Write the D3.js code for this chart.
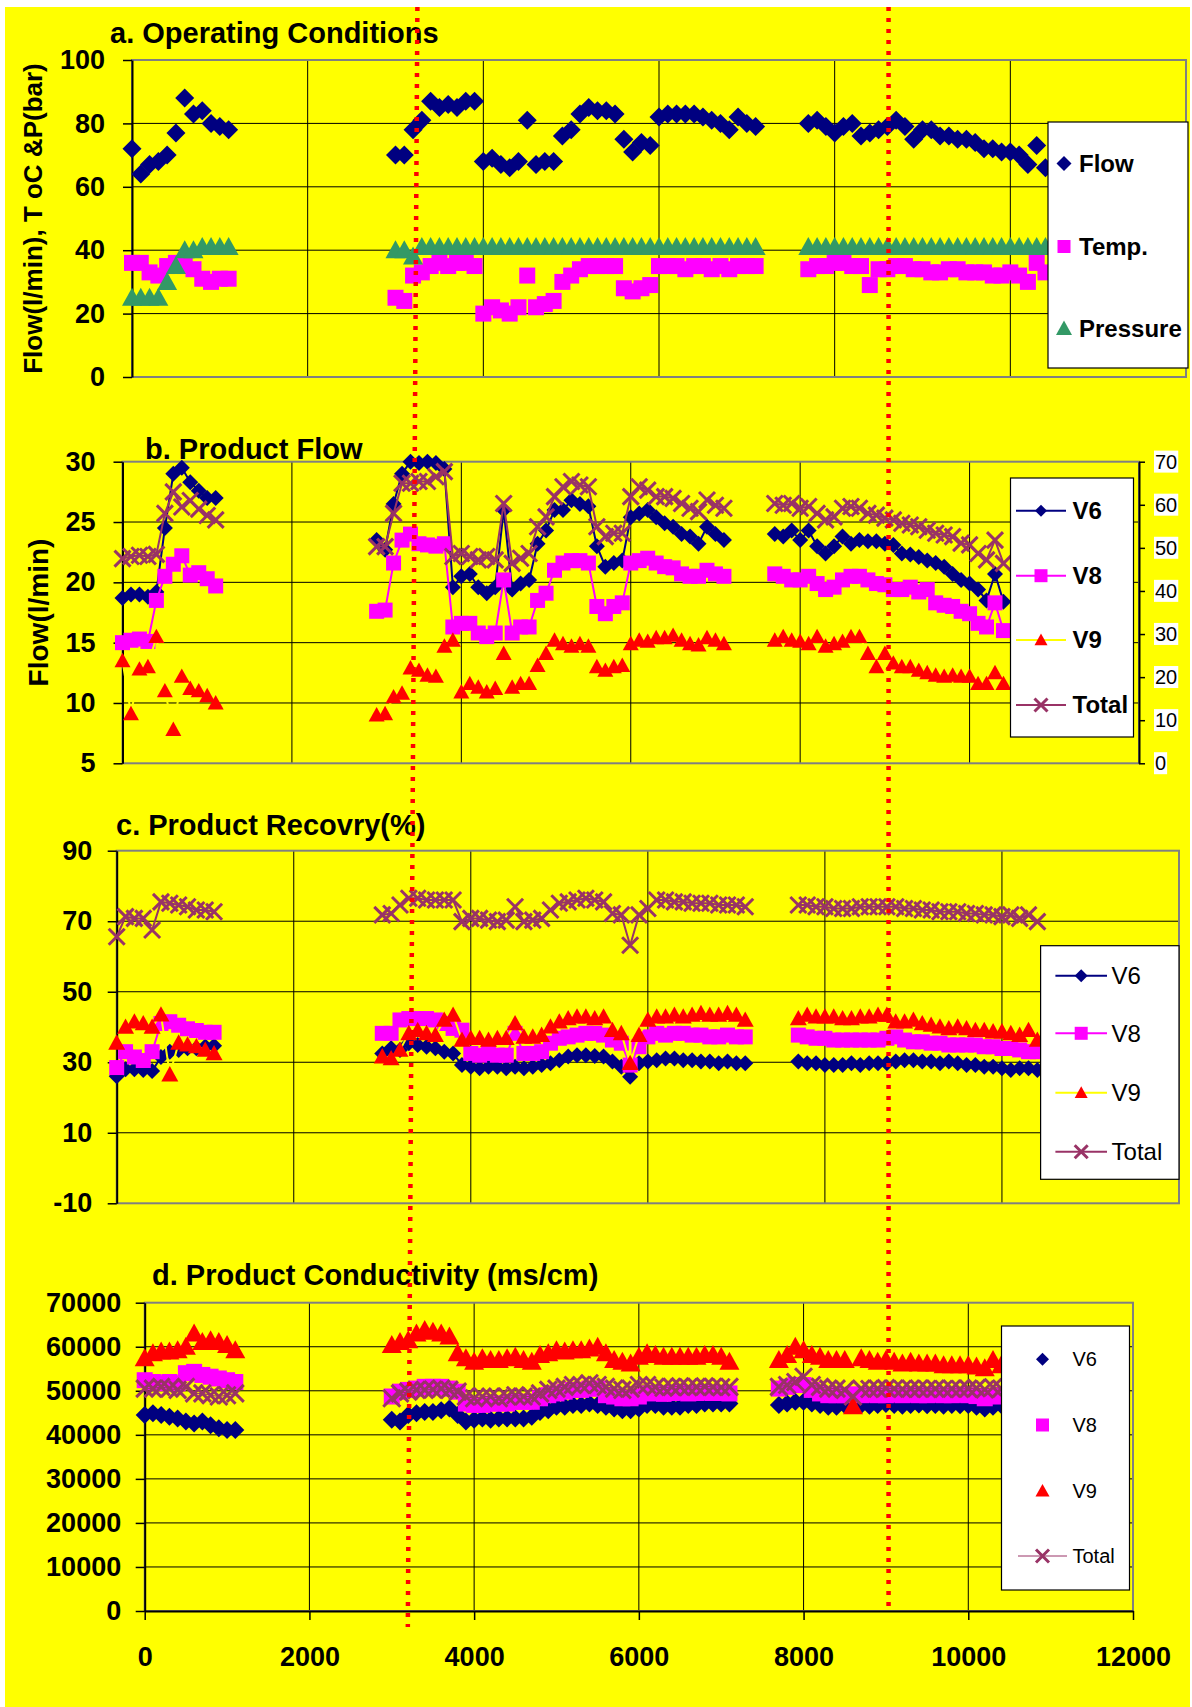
<!DOCTYPE html>
<html>
<head>
<meta charset="utf-8">
<script src="https://cdn.jsdelivr.net/npm/d3@7"></script>
<style>
  body { margin: 0; background: #fff; }
  svg { display: block; }
</style>
</head>
<body>
<div id="chart"></div>
<script>
var FONT = "'Liberation Sans', Arial, Helvetica, sans-serif";
var width = 1192, height = 1707;

// sample times (shared by every series)
var hours = [0,100,200,300,400,500,600,700,800,900,1000,1100,
  3000,3100,3200,3300,3400,3500,3600,3700,3800,3900,
  4000,4100,4200,4300,4400,4500,4600,4700,4800,4900,
  5000,5100,5200,5300,5400,5500,5600,5700,5800,5900,
  6000,6100,6200,6300,6400,6500,6600,6700,6800,6900,
  7000,7100,
  7700,7800,7900,8000,8100,8200,8300,8400,8500,8600,
  8700,8800,8900,9000,9100,9200,9300,9400,9500,9600,
  9700,9800,9900,10000,10100,10200,10300,10400];

var xTicks = [0, 2000, 4000, 6000, 8000, 10000, 12000];

// a. operating conditions
var flowA = [72,64,67,68,70,77,88,83,84,80,79,78,
  70,70,78,81,87,85,86,85,87,87,
  68,69,67,66,68,81,67,68,68,76,
  78,83,85,84,84,83,75,71,74,73,
  82,83,83,83,83,82,81,80,78,82,
  80,79,
  80,81,79,77,79,80,76,77,78,79,
  81,79,75,78,78,76,76,75,75,74,
  72,72,71,71,70,67,73,66];
var tempA = [36,36,33,32,35,36,35,34,31,30,31,31,
  25,24,32,33,35,36,35,36,36,35,
  20,22,21,20,22,32,22,23,24,30,
  32,34,35,35,35,35,28,27,28,29,
  35,35,35,34,35,35,34,35,34,35,
  35,35,
  34,35,35,36,36,35,35,29,34,34,
  35,35,34,34,33,33,34,34,33,33,
  33,32,32,33,32,30,36,33];
var pressA = [25,25,25,25,30,35,40,40,41,41,41,41,
  40,40,38,41,41,41,41,41,41,41,
  41,41,41,41,41,41,41,41,41,41,
  41,41,41,41,41,41,41,41,41,41,
  41,41,41,41,41,41,41,41,41,41,
  41,41,
  41,41,41,41,41,41,41,41,41,41,
  41,41,41,41,41,41,41,41,41,41,
  41,41,41,41,41,41,41,41];

// b. product flow (l/min), total on the right axis
var v6B = [18.7,19,19,18.8,19.2,24.5,29,29.5,28.3,27.6,27,27,
  23.5,22.7,26.5,29,30,29.9,30,29.9,29.4,19.6,
  20.5,20.7,19.6,19.1,19.6,26,19.4,19.9,20.2,23.2,
  24.3,26,26,26.8,26.5,26.3,23,21.3,21.6,21.8,
  25.4,25.7,26,25.4,24.9,24.6,24,23.8,23.2,24.6,
  24,23.5,
  24,23.8,24.3,23.5,24.3,23,22.4,23,23.8,23.2,
  23.5,23.4,23.4,23.2,23.1,22.4,22.3,22.1,21.8,21.6,
  21.3,20.7,20.2,19.9,19.4,18.5,20.7,18.4];
var v8B = [15,15.2,15.3,15.1,18.5,20.5,21.5,22.2,20.6,20.8,20.3,19.7,
  17.6,17.7,21.6,23.5,24,23.2,23.1,23,23.2,16.3,
  16.6,16.6,15.8,15.5,15.8,20.2,15.8,16.3,16.3,18.5,
  19.1,21,21.6,21.8,21.8,21.6,18,17.4,18,18.3,
  21.6,21.8,22,21.6,21.3,21.2,20.7,20.5,20.5,21,
  20.7,20.5,
  20.7,20.5,20.2,20.2,20.5,19.9,19.4,19.6,20.2,20.5,
  20.5,20.2,19.9,19.8,19.4,19.4,19.6,19.2,19.4,18.3,
  18.1,18,17.6,17.4,16.6,16.3,18.3,16];
var v9B = [13.5,9.1,12.8,13,15.5,11,7.8,12.2,11.2,11,10.6,10,
  9,9.1,10.5,10.8,12.9,12.7,12.3,12.2,14.7,15.2,
  10.9,11.6,11.3,10.9,11.2,14.1,11.3,11.6,11.6,13.1,
  14.1,15.2,14.9,14.7,14.9,14.7,13,12.7,13,13.1,
  14.9,15.2,15.1,15.4,15.4,15.6,15.2,14.9,14.8,15.4,
  15.2,14.9,
  15.2,15.5,15.2,15.1,14.9,15.5,14.7,14.9,15.1,15.5,
  15.5,14.1,13,14.1,13.3,13,13,12.7,12.5,12.3,
  12.2,12.3,12.2,12.2,11.6,11.6,12.5,11.6];
var totalB = [47.5,48,48.3,48,48.5,58,63,59.5,61,59,57.5,56.5,
  50.3,50.3,58,65,65,65.4,65.4,66.5,67.7,48,
  48.7,48,47.2,48,47.2,60.3,46.4,47.6,48.7,54.9,
  57.2,61.9,64.2,65.4,64.6,64.2,54.9,52.6,53.4,53.4,
  61.9,64.2,63.4,61.9,61.9,61.5,60.3,59.2,58.4,61.1,
  59.9,59.2,
  60.3,59.9,60.3,59.2,59.6,58,56.5,57.2,59.2,59.6,
  59.2,58,57.6,56.9,56.5,55.7,55.3,54.9,54.1,53.4,
  53,52.6,51.1,50.7,48.7,47.2,51.8,46.4];

// c. product recovery (%)
var v6C = [26,28,28,27.8,27.5,31.5,33,33.5,34,34,34.5,34.7,
  32.5,34,33.5,35.4,34.9,34.4,34,33,32.5,29.2,
  28.7,28.3,28.7,28.7,28.3,28.7,28.3,28.7,29.2,29.7,
  30.6,31.6,32,32,31.8,31.6,30.2,28.7,25.9,29.7,
  30.2,30.6,31.1,31.1,30.6,30.6,30.2,30.2,29.7,30.2,
  29.7,29.7,
  30.2,29.7,29.7,29.2,29.2,29.2,29.7,29.2,29.7,29.7,
  29.7,30.2,30.6,30.6,30.2,30.2,29.7,30.2,29.7,29.2,
  29.2,28.7,28.7,28.3,27.8,28.3,28.3,27.8];
var v8C = [28.5,33,31.5,30.5,33,41,41.5,40.5,39.5,39,38.5,38.5,
  38.2,38.2,42,42.4,42.4,42.4,42,41,39.6,39.1,
  32.5,32,32.5,32,32,38.2,32.5,32.5,33,35.4,
  36.8,37.2,37.7,38.2,38.2,37.7,36.3,35.4,29.2,34.4,
  37.2,38.2,37.7,38.2,38.2,37.7,37.7,37.2,37.2,37.7,
  37.2,37.2,
  37.7,37.2,36.8,36.8,36.3,36.3,36.3,36.3,36.3,36.3,
  36.8,37.2,36.3,35.8,35.8,35.4,35.4,34.9,34.9,34.9,
  34.9,34.4,34.4,33.9,33.9,33.5,33,33];
var v9C = [35.5,40,41.5,41,40,43.5,26.5,35.5,35,34.5,33.5,32.5,
  31.6,31.1,33.5,38.2,39.1,38.2,37.7,42,43.4,36.3,
  36.8,36.8,36.3,36.8,36.8,41,37.2,37.2,37.7,40.1,
  41.5,42.4,42.9,42.9,42.4,42.9,39.1,38.2,29.7,37.7,
  42,42.9,42.9,43.4,42.9,43.4,43.9,43.4,43.4,43.9,
  43.4,42,
  42.4,43.4,42.9,42.9,42.9,42.4,42.4,42.9,42.9,43.4,
  43.4,41.5,41.5,42,41,40.6,40.1,39.6,40.1,39.6,
  39.1,39.1,38.7,38.7,38.2,37.7,39.1,36.3];
var totalC = [65.6,71.3,70.8,70.8,67.5,75.5,75.1,74.6,74.1,73.2,73.2,72.7,
  71.8,72.2,74.6,76.5,76.5,76,76,76,76,69.9,
  70.8,70.8,70.3,69.9,70.3,74.1,69.9,70.3,70.8,73.2,
  75.1,75.5,76,76.5,76,75.5,72.2,71.8,63.2,71.8,
  73.6,76,76,75.5,75.5,75.1,75.1,75.1,74.6,74.6,
  74.6,74.1,
  74.6,74.6,74.1,74.1,73.6,73.6,73.6,74.1,74.1,74.1,
  74.1,74.1,73.6,73.6,73.2,73.2,72.7,72.7,72.7,72.2,
  72.2,71.8,71.8,71.3,71.8,70.8,71.8,69.9];

// d. product conductivity
var v6D = [44500,44900,44500,44100,43700,43000,42600,43000,42200,41500,41100,41100,
  43400,43000,44500,44900,45200,45200,45600,46000,44500,43000,
  43400,43700,43400,43700,43700,43700,43700,44100,45200,45600,
  46400,46400,46800,46800,47100,46800,46400,46000,45600,45600,
  46000,46800,46800,46400,46400,46400,46800,46800,47100,47100,
  47100,47100,
  46800,47100,47500,47500,47100,46800,46400,46400,46800,46800,
  46800,46600,46800,47000,46800,46600,46800,46900,46700,46800,
  46600,46800,46700,46800,46400,46000,46400,46800];
var v8D = [52400,52000,51700,52000,51700,54000,54300,53600,53200,52800,52400,52000,
  48700,49800,50200,50500,50900,50900,50900,50500,49800,47100,
  46800,46800,47100,47100,47100,47500,47500,47500,48300,49000,
  49400,49800,50200,50200,50500,50500,49000,48700,48300,48300,
  48700,49400,49500,49300,49500,49600,49400,49500,49600,49500,
  49500,49400,
  50500,50900,51300,51300,50200,49400,49000,49000,49000,49200,
  49000,49100,49000,49000,49200,49000,49100,49000,49000,49100,
  49000,49000,49100,49000,48800,48300,48700,49000];
var v9D = [57400,58500,58900,58900,59200,60000,63000,61100,61500,61100,60400,59200,
  60400,61100,61500,63000,63800,63400,63000,62300,58500,57400,
  56600,57400,57000,57000,57400,57700,57000,56600,58100,58500,
  59200,58900,59200,59200,59600,60000,58500,57000,56600,56200,
  57700,58500,58100,57700,57700,57700,57700,57700,58100,58100,
  57700,56600,
  57000,58100,60000,59200,58100,57700,57000,57000,57000,46500,
  57400,57000,56600,57000,56600,56200,56600,56200,56200,56200,
  55800,55800,55800,55800,55500,55100,57000,55800];
var totalD = [50500,50500,50900,50500,50200,50900,49400,49400,49000,48700,49000,49400,
  48300,49400,49800,50200,50200,50300,50500,50200,49800,48700,
  48300,48700,48700,48300,48700,49000,48700,48700,49400,50200,
  50500,50900,51300,51300,51700,51300,50900,50500,50200,50500,
  51300,51300,50900,50700,50900,51000,50800,50900,51000,50900,
  50800,50900,
  50900,51300,52000,53200,51300,50900,50500,50500,50200,48700,
  50500,50400,50500,50600,50500,50400,50500,50500,50400,50500,
  50400,50500,50400,50500,50600,50300,50800,50500];

// red dotted marks, [top, bottom] in hours of panel d
var cutMarks = [[3311, 3195], [9032, 9032]];

var svg = d3.select("#chart").append("svg")
    .attr("width", width)
    .attr("height", height)
    .style("font-family", FONT);

svg.append("rect")
    .attr("x", 5).attr("y", 7)
    .attr("width", 1185).attr("height", 1700)
    .attr("fill", "#ffff00");

function symbolPath(type, r) {
    if (type === "diamond") return "M0," + (-r) + "L" + r + ",0L0," + r + "L" + (-r) + ",0Z";
    if (type === "square") return "M" + (-r) + "," + (-r) + "h" + (2 * r) + "v" + (2 * r) + "h" + (-2 * r) + "Z";
    if (type === "triangle") return "M0," + (-r) + "L" + r + "," + (r * 0.8) + "L" + (-r) + "," + (r * 0.8) + "Z";
    return "M" + (-r) + "," + (-r) + "L" + r + "," + r + "M" + r + "," + (-r) + "L" + (-r) + "," + r;
}

function drawMarker(sel, s, r) {
    var cross = s.symbol === "cross";
    sel.attr("d", symbolPath(s.symbol, r || s.r))
        .attr("fill", cross ? "none" : s.color)
        .attr("stroke", cross ? s.color : "none")
        .attr("stroke-width", 3);
}

// break lines where the plant was stopped
var segments = [];
hours.forEach(function (h, i) {
    if (i === 0 || h - hours[i - 1] > 300) segments.push([]);
    segments[segments.length - 1].push(i);
});

var NAVY = "#000080", MAG = "#ff00ff", RED = "#ff0000", PURP = "#993366";

var panels = [
    {
        title: "a. Operating Conditions", titleX: 110, titleY: 43,
        left: 132, right: 1186, top: 60, bottom: 377,
        yDomain: [0, 100], yTicks: [0, 20, 40, 60, 80, 100], gap: 18,
        ylabel: "Flow(l/min), T oC &P(bar)", ylabelX: 33, ylabelSize: 26,
        series: [
            { name: "Flow", values: flowA, color: NAVY, symbol: "diamond", r: 9.5, lr: 7.5 },
            { name: "Temp.", values: tempA, color: MAG, symbol: "square", r: 8, lr: 6.5 },
            { name: "Pressure", values: pressA, color: "#339966", symbol: "triangle", r: 10, lr: 8 }
        ],
        legend: { x: 1048, y: 122, w: 140, h: 246, rows: [41.5, 124.5, 206.5], markX: 16, textX: 31, size: 24, weight: "bold" }
    },
    {
        title: "b. Product Flow", titleX: 145, titleY: 459,
        left: 122.5, right: 1139, top: 461.7, bottom: 763.3,
        yDomain: [5, 30], yTicks: [5, 10, 15, 20, 25, 30], gap: 18,
        y2Domain: [0, 70], y2Ticks: [0, 10, 20, 30, 40, 50, 60, 70],
        ylabel: "Flow(l/min)", ylabelX: 38, ylabelSize: 28,
        series: [
            { name: "V6", values: v6B, color: NAVY, symbol: "diamond", r: 8, lr: 6, line: NAVY, lw: 2 },
            { name: "V8", values: v8B, color: MAG, symbol: "square", r: 7.5, lr: 6.5, line: MAG, lw: 2 },
            { name: "V9", values: v9B, color: RED, symbol: "triangle", r: 8, lr: 6.5, line: "#ffff00", lw: 2 },
            { name: "Total", values: totalB, color: PURP, symbol: "cross", r: 8, lr: 6.5, line: PURP, lw: 2, axis2: true }
        ],
        legend: { x: 1010.5, y: 478, w: 123, h: 259, rows: [32.7, 97.7, 162, 227], lineX: [5.5, 55.5], markX: 30.5, textX: 62, size: 24, weight: "bold" }
    },
    {
        title: "c. Product Recovry(%)", titleX: 116, titleY: 835,
        left: 116.7, right: 1179, top: 850.7, bottom: 1203.3,
        yDomain: [-10, 90], yTicks: [-10, 10, 30, 50, 70, 90], gap: 15.5,
        series: [
            { name: "V6", values: v6C, color: NAVY, symbol: "diamond", r: 8, lr: 6.5, line: NAVY, lw: 2 },
            { name: "V8", values: v8C, color: MAG, symbol: "square", r: 7.5, lr: 6.5, line: MAG, lw: 2 },
            { name: "V9", values: v9C, color: RED, symbol: "triangle", r: 8.5, lr: 6.5, line: "#ffff00", lw: 2 },
            { name: "Total", values: totalC, color: PURP, symbol: "cross", r: 8, lr: 6.5, line: PURP, lw: 2 }
        ],
        legend: { x: 1040.6, y: 945.7, w: 138.4, h: 233.6, rows: [30, 87.6, 147, 206], lineX: [14.8, 66.4], markX: 40.6, textX: 71, size: 24, weight: "normal" }
    },
    {
        title: "d. Product Conductivity (ms/cm)", titleX: 152, titleY: 1285,
        left: 144.7, right: 1133, top: 1302.7, bottom: 1611,
        yDomain: [0, 70000], yTicks: [0, 10000, 20000, 30000, 40000, 50000, 60000, 70000], gap: 14.5,
        xLabels: true,
        series: [
            { name: "V6", values: v6D, color: NAVY, symbol: "diamond", r: 9, lr: 6.5 },
            { name: "V8", values: v8D, color: MAG, symbol: "square", r: 8, lr: 6.5 },
            { name: "V9", values: v9D, color: RED, symbol: "triangle", r: 10, lr: 7 },
            { name: "Total", values: totalD, color: PURP, symbol: "cross", r: 8.5, lr: 6.5, line: PURP, lw: 1 }
        ],
        legend: { x: 1001.5, y: 1326, w: 128, h: 264, rows: [33.3, 99, 165, 230], lineX: [16.5, 65.5], markX: 41, textX: 71, size: 20, weight: "normal", lineOnly: "Total" }
    }
];

var xD;

panels.forEach(function (p) {
    var x = d3.scaleLinear().domain([0, 12000]).range([p.left, p.right]);
    var y = d3.scaleLinear().domain(p.yDomain).range([p.bottom, p.top]);
    var y2 = p.y2Domain ? d3.scaleLinear().domain(p.y2Domain).range([p.bottom, p.top]) : null;
    if (p.xLabels) xD = x;
    var g = svg.append("g");

    g.selectAll(".hgrid")
        .data(p.yTicks.slice(1, -1))
        .enter().append("line")
        .attr("x1", p.left).attr("x2", p.right)
        .attr("y1", function (d) { return y(d); })
        .attr("y2", function (d) { return y(d); })
        .attr("stroke", "#000").attr("stroke-width", 1);
    g.selectAll(".vgrid")
        .data(xTicks.slice(1, -1))
        .enter().append("line")
        .attr("x1", function (d) { return x(d); })
        .attr("x2", function (d) { return x(d); })
        .attr("y1", p.top).attr("y2", p.bottom)
        .attr("stroke", "#000").attr("stroke-width", 1);

    g.append("rect")
        .attr("x", p.left).attr("y", p.top)
        .attr("width", p.right - p.left).attr("height", p.bottom - p.top)
        .attr("fill", "none").attr("stroke", "#808080").attr("stroke-width", 2);

    var ax = g.append("g")
        .attr("transform", "translate(" + p.left + ",0)")
        .call(d3.axisLeft(y).tickValues(p.yTicks).tickSize(9).tickSizeOuter(0)
            .tickPadding(p.gap).tickFormat(function (d) { return String(d); }));
    ax.select(".domain").attr("stroke", "#000").attr("stroke-width", 2);
    ax.selectAll(".tick line").attr("stroke", "#000").attr("stroke-width", 1.5);
    ax.selectAll("text")
        .attr("fill", "#000")
        .style("font-family", FONT).style("font-size", "27px").style("font-weight", "bold");

    if (p.xLabels) {
        var bx = g.append("g")
            .attr("transform", "translate(0," + p.bottom + ")")
            .call(d3.axisBottom(x).tickValues(xTicks).tickSize(9).tickSizeOuter(0).tickPadding(27)
                .tickFormat(function (d) { return String(d); }));
        bx.select(".domain").attr("stroke", "#000").attr("stroke-width", 2);
        bx.selectAll(".tick line").attr("stroke", "#000").attr("stroke-width", 1.5);
        bx.selectAll("text")
            .attr("fill", "#000")
            .style("font-family", FONT).style("font-size", "27px").style("font-weight", "bold");
    }

    if (y2) {
        var rx = g.append("g")
            .attr("transform", "translate(" + p.right + ",0)")
            .call(d3.axisRight(y2).tickValues(p.y2Ticks).tickSize(6).tickSizeOuter(0).tickPadding(10));
        rx.select(".domain").attr("stroke", "#000").attr("stroke-width", 2);
        rx.selectAll(".tick line").attr("stroke", "#000").attr("stroke-width", 1.5);
        rx.selectAll("text")
            .attr("fill", "#000")
            .style("font-family", FONT).style("font-size", "20px");
        rx.selectAll(".tick").each(function () {
            var t = d3.select(this).select("text");
            var b = t.node().getBBox();
            d3.select(this).insert("rect", "text")
                .attr("x", b.x - 1).attr("y", b.y)
                .attr("width", b.width + 2).attr("height", b.height)
                .attr("fill", "#fff");
        });
    }

    p.series.forEach(function (s) {
        var ys = s.axis2 ? y2 : y;
        var sg = g.append("g");
        if (s.line) {
            var line = d3.line()
                .x(function (i) { return x(hours[i]); })
                .y(function (i) { return ys(s.values[i]); });
            segments.forEach(function (seg) {
                sg.append("path")
                    .attr("d", line(seg))
                    .attr("fill", "none")
                    .attr("stroke", s.line)
                    .attr("stroke-width", s.lw);
            });
        }
        sg.selectAll("path.m")
            .data(hours.map(function (h, i) { return [h, s.values[i]]; }))
            .enter().append("path")
            .attr("class", "m")
            .attr("transform", function (d) { return "translate(" + x(d[0]) + "," + ys(d[1]) + ")"; })
            .call(drawMarker, s);
    });

    g.append("text")
        .attr("x", p.titleX).attr("y", p.titleY)
        .style("font-size", "29px").style("font-weight", "bold")
        .text(p.title);

    if (p.ylabel) {
        g.append("text")
            .attr("transform", "translate(" + p.ylabelX + "," + ((p.top + p.bottom) / 2) + ") rotate(-90)")
            .attr("text-anchor", "middle")
            .attr("dy", "0.35em")
            .style("font-size", p.ylabelSize + "px").style("font-weight", "bold")
            .text(p.ylabel);
    }

    var L = p.legend;
    var lg = g.append("g").attr("transform", "translate(" + L.x + "," + L.y + ")");
    lg.append("rect")
        .attr("width", L.w).attr("height", L.h)
        .attr("fill", "#fff").attr("stroke", "#000").attr("stroke-width", 1.2);
    p.series.forEach(function (s, i) {
        var row = lg.append("g").attr("transform", "translate(0," + L.rows[i] + ")");
        if (L.lineX && s.line && (!L.lineOnly || L.lineOnly === s.name)) {
            row.append("line")
                .attr("x1", L.lineX[0]).attr("x2", L.lineX[1])
                .attr("stroke", s.line).attr("stroke-width", s.lw);
        }
        row.append("path")
            .attr("transform", "translate(" + L.markX + ",0)")
            .call(drawMarker, s, s.lr);
        row.append("text")
            .attr("x", L.textX).attr("dy", "0.35em")
            .style("font-size", L.size + "px").style("font-weight", L.weight)
            .text(s.name);
    });
});

// red dotted marks across the whole figure
svg.selectAll(".cut")
    .data(cutMarks)
    .enter().append("line")
    .attr("x1", function (d) { return xD(d[0]); })
    .attr("x2", function (d) { return xD(d[1]); })
    .attr("y1", 7)
    .attr("y2", function (d, i) { return i === 0 ? 1627 : 1613; })
    .attr("stroke", "#ff0000")
    .attr("stroke-width", 4.5)
    .attr("stroke-dasharray", "4 7");
</script>
</body>
</html>
